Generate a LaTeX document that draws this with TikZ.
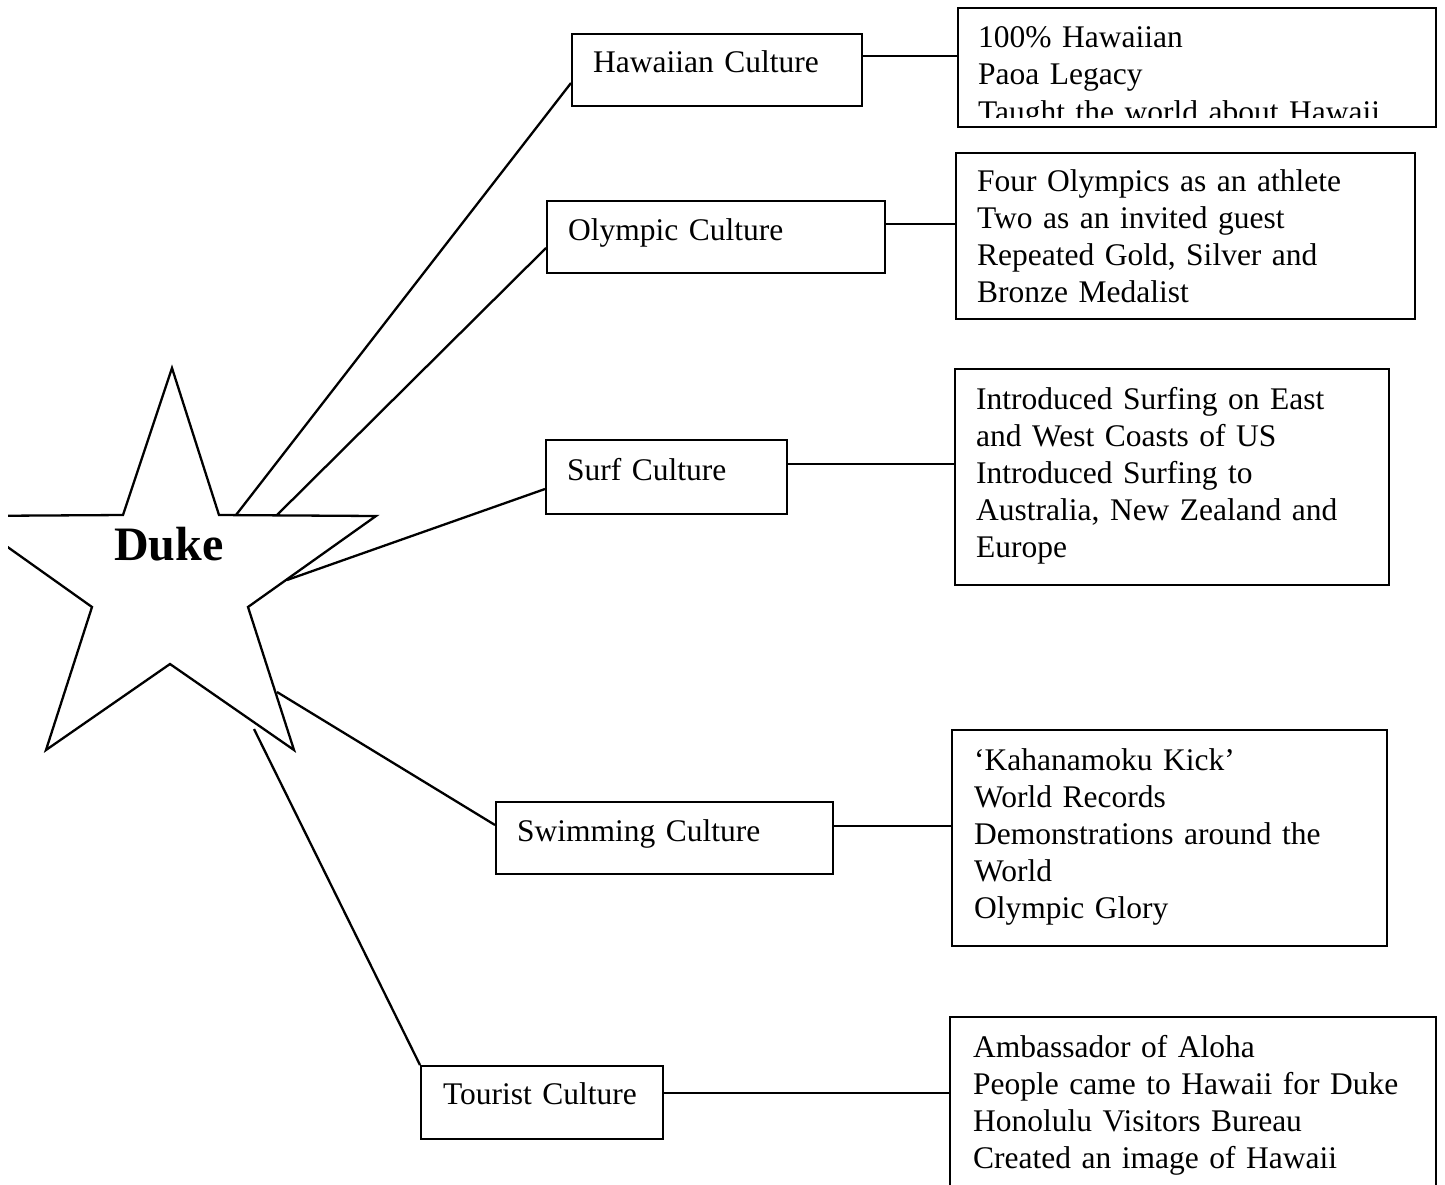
\documentclass[tikz,border=0pt]{standalone}
\usepackage{fontspec}
\setmainfont{Liberation Serif}
\usetikzlibrary{calc}
\begin{document}
\begin{tikzpicture}[x=1pt,y=-1pt,line width=2.3pt,line join=miter,
  box/.style={draw,line width=2.3pt,rectangle,inner sep=0pt,anchor=north west},
  txt/.style={inner sep=0pt,anchor=base west,align=left,text width=470pt,
    font={\fontsize{31.5}{37}\selectfont}},
  conn/.style={line width=2.3pt}]
\useasboundingbox (0,0) rectangle (1445,1184);
\clip (8,0) rectangle (1445,1184);

% star
\draw (172,368) -- (219,515) -- (376,516) -- (248,607) -- (294,750) -- (170,664)
  -- (46,750) -- (92,607) -- (-36,516) -- (123,515) -- cycle;
\node[inner sep=0pt,anchor=base west,font={\fontsize{48}{50}\selectfont\bfseries}] (duke) at (113,560) {Duke};
\coordinate (s1) at (236,515);
\coordinate (s2) at (277,515);
\coordinate (s3) at (287,580);
\coordinate (s4) at (277,692);
\coordinate (s5) at (254,729);

% culture boxes
\node[box,minimum width=290pt,minimum height=72pt] (hc) at (571,33) {};
\node[box,minimum width=338pt,minimum height=72pt] (oc) at (546,200) {};
\node[box,minimum width=241pt,minimum height=74pt] (sc) at (545,439) {};
\node[box,minimum width=337pt,minimum height=72pt] (wc) at (495,801) {};
\node[box,minimum width=242pt,minimum height=73pt] (tc) at (420,1065) {};

\node[txt] (hct) at (592,72) {Hawaiian Culture};
\node[txt] (oct) at (567,240) {Olympic Culture};
\node[txt] (sct) at (566,480) {Surf Culture};
\node[txt] (wct) at (516,841) {Swimming Culture};
\node[txt] (tct) at (442,1104) {Tourist Culture};

% detail boxes
\node[box,minimum width=478pt,minimum height=119pt] (d1) at (957,7) {};
\node[box,minimum width=459pt,minimum height=166pt] (d2) at (955,152) {};
\node[box,minimum width=434pt,minimum height=216pt] (d3) at (954,368) {};
\node[box,minimum width=435pt,minimum height=216pt] (d4) at (951,729) {};
\node[box,minimum width=486pt,minimum height=200pt] (d5) at (949,1016) {};

\begin{scope}
\clip (957,7) rectangle (1435,117);
\node[txt,font={\fontsize{31.5}{37.5}\selectfont}] (d1t) at (977,47) {100\% Hawaiian\\Paoa Legacy\\Taught the world about Hawaii};
\end{scope}
\node[txt] (d2t) at (976,191) {Four Olympics as an athlete\\Two as an invited guest\\Repeated Gold, Silver and\\Bronze Medalist};
\node[txt] (d3t) at (975,409) {Introduced Surfing on East\\and West Coasts of US\\Introduced Surfing to\\Australia, New Zealand and\\Europe};
\node[txt] (d4t) at (973,770) {‘Kahanamoku Kick’\\World Records\\Demonstrations around the\\World\\Olympic Glory};
\node[txt] (d5t) at (972,1057) {Ambassador of Aloha\\People came to Hawaii for Duke\\Honolulu Visitors Bureau\\Created an image of Hawaii};

% star connectors
\draw[conn] (s1) -- ($(hc.north west)+(0,50)$);
\draw[conn] (s2) -- ($(oc.north west)+(0,48)$);
\draw[conn] (s3) -- ($(sc.north west)+(0,50)$);
\draw[conn] (s4) -- ($(wc.north west)+(0,24)$);
\draw[conn] (s5) -- (tc.north west);

% horizontal connectors
\draw[conn] ($(hc.north east)+(0,23)$) -- ($(d1.north west)+(0,49)$);
\draw[conn] ($(oc.north east)+(0,24)$) -- ($(d2.north west)+(0,72)$);
\draw[conn] ($(sc.north east)+(0,25)$) -- ($(d3.north west)+(0,96)$);
\draw[conn] ($(wc.north east)+(0,25)$) -- ($(d4.north west)+(0,97)$);
\draw[conn] ($(tc.north east)+(0,28)$) -- ($(d5.north west)+(0,77)$);
\end{tikzpicture}
\end{document}
